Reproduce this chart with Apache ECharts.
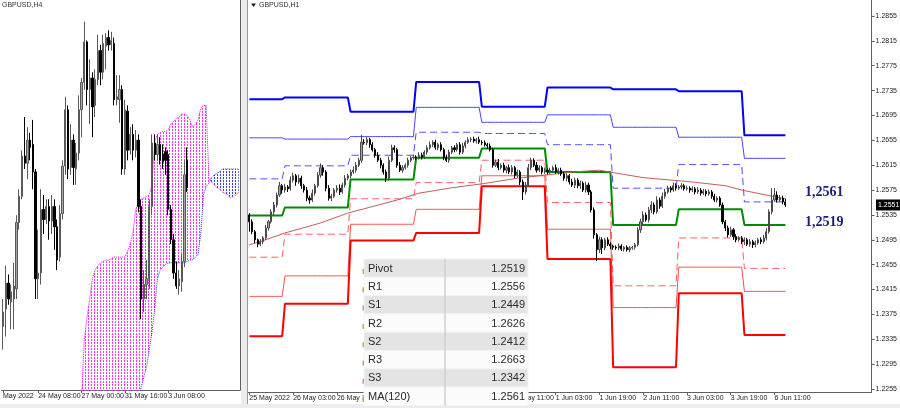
<!DOCTYPE html>
<html>
<head>
<meta charset="utf-8">
<script src="https://cdn.jsdelivr.net/npm/echarts@6.0.0/dist/echarts.min.js"></script>
<style>
html,body{margin:0;padding:0;background:#ffffff;}
#chart{width:900px;height:408px;}
</style>
</head>
<body>
<div id="chart"></div>
<script>
// ================= LEFT PANEL : GBPUSD,H4 =================
const h4TickIdx  = [0, 13, 29, 45, 61];
const h4TickText = ['May 2022', '24 May 08:00', '27 May 00:00', '31 May 16:00', '3 Jun 08:00'];

const h4Open = [1.2455,1.2467,1.2485,1.2472,1.2474,1.2481,1.2527,1.2545,1.2573,1.2568,
1.2584,1.2581,1.2562,1.2488,1.2492,1.2536,1.2529,1.2538,1.2528,1.2538,
1.2524,1.2503,1.2533,1.2566,1.2605,1.2565,1.2584,1.2564,1.2575,1.2605,
1.2624,1.2652,1.2619,1.2627,1.2608,1.2626,1.2646,1.2631,1.2649,1.2655,
1.2650,1.2651,1.2612,1.2612,1.2619,1.2564,1.2604,1.2577,1.2588,1.2577,
1.2584,1.2538,1.2474,1.2484,1.2488,1.2538,1.2582,1.2574,1.2581,1.2574,
1.2576,1.2574,1.2536,1.2515,1.2492,1.2483,1.2486,1.2500,1.2570];
const h4Close = [1.2465,1.2485,1.2474,1.2479,1.2483,1.2527,1.2545,1.2573,1.2568,1.2584,
1.2579,1.2562,1.2488,1.2492,1.2536,1.2529,1.2538,1.2528,1.2538,1.2524,
1.2501,1.2533,1.2566,1.2605,1.2564,1.2584,1.2565,1.2575,1.2605,1.2624,
1.2652,1.2619,1.2627,1.2607,1.2626,1.2646,1.2631,1.2651,1.2655,1.2650,
1.2653,1.2612,1.2614,1.2619,1.2564,1.2605,1.2577,1.2588,1.2577,1.2584,
1.2538,1.2474,1.2484,1.2488,1.2538,1.2582,1.2574,1.2581,1.2570,1.2569,
1.2570,1.2536,1.2515,1.2492,1.2483,1.2488,1.2500,1.2560,1.2551];
const h4Low = [1.2439,1.2448,1.2470,1.2453,1.2453,1.2474,1.2522,1.2543,1.2564,1.2557,
1.2570,1.2550,1.2474,1.2474,1.2484,1.2519,1.2526,1.2515,1.2519,1.2508,
1.2494,1.2500,1.2529,1.2560,1.2557,1.2560,1.2553,1.2553,1.2570,1.2586,
1.2619,1.2608,1.2595,1.2586,1.2600,1.2622,1.2622,1.2626,1.2633,1.2646,
1.2646,1.2608,1.2608,1.2596,1.2560,1.2560,1.2570,1.2574,1.2570,1.2572,
1.2534,1.2460,1.2465,1.2474,1.2481,1.2532,1.2570,1.2570,1.2567,1.2564,
1.2560,1.2532,1.2512,1.2488,1.2481,1.2477,1.2479,1.2496,1.2548];
const h4High = [1.2474,1.2497,1.2491,1.2484,1.2499,1.2532,1.2550,1.2577,1.2600,1.2593,
1.2589,1.2598,1.2564,1.2522,1.2550,1.2546,1.2543,1.2543,1.2546,1.2543,
1.2529,1.2539,1.2570,1.2614,1.2608,1.2595,1.2588,1.2582,1.2615,1.2627,
1.2666,1.2653,1.2640,1.2631,1.2633,1.2657,1.2650,1.2657,1.2658,1.2660,
1.2659,1.2655,1.2629,1.2629,1.2622,1.2612,1.2608,1.2593,1.2595,1.2591,
1.2588,1.2543,1.2494,1.2501,1.2543,1.2588,1.2588,1.2588,1.2586,1.2581,
1.2579,1.2577,1.2539,1.2519,1.2500,1.2494,1.2505,1.2570,1.2579];

// Ichimoku cloud (Senkou Span A / B), starting at bar 28
const cloudStart = 28;
const senkouA = [1.2377,1.2405,1.2446,1.2461,1.2474,1.2488,1.2494,1.2497,1.2499,1.2500,
1.2501,1.2501,1.2502,1.2503,1.2503,1.2503,1.2503,1.2503,1.2507,1.2512,
1.2520,1.2536,1.2541,1.2543,1.2544,1.2545,1.2546,1.2553,1.2583,1.2588,
1.2589,1.2590,1.2590,1.2591,1.2595,1.2597,1.2599,1.2600,1.2602,1.2602,
1.2601,1.2598,1.2593,1.2595,1.2598,1.2606,1.2608,1.2608,1.2558,1.2555,
1.2553,1.2551,1.2550,1.2548,1.2547,1.2546,1.2544,1.2545,1.2546,1.2548];
const senkouB = [1.2349,1.2349,1.2349,1.2349,1.2349,1.2349,1.2356,1.2356,1.2356,1.2356,
1.2363,1.2363,1.2363,1.2370,1.2370,1.2377,1.2377,1.2384,1.2384,1.2391,
1.2394,1.2401,1.2406,1.2413,1.2420,1.2427,1.2439,1.2451,1.2467,1.2488,
1.2494,1.2496,1.2498,1.2499,1.2499,1.2499,1.2499,1.2499,1.2499,1.2499,
1.2500,1.2501,1.2501,1.2503,1.2505,1.2519,1.2546,1.2552,1.2554,1.2558,
1.2560,1.2561,1.2562,1.2564,1.2564,1.2564,1.2564,1.2564,1.2564,1.2564];

// ================= RIGHT PANEL : GBPUSD,H1 =================
const h1TickIdx  = [0,16,32,48,64,80,96,112,128,144,160,176,192];
const h1TickText = ['25 May 2022','26 May 03:00','26 May 19:00','27 May 11:00','30 May 03:00','30 May 19:00',
                    '31 May 11:00','1 Jun 03:00','1 Jun 19:00','2 Jun 11:00','3 Jun 03:00','3 Jun 19:00','6 Jun 11:00'];
const priceTicks = [1.2855,1.2815,1.2775,1.2735,1.2695,1.2655,1.2615,1.2575,1.2535,1.2495,1.2455,1.2415,1.2375,1.2335,1.2295,1.2255];

const h1FirstOpen = 1.2535;
const h1Close = [1.2524,1.2508,1.2495,1.2488,1.2492,1.2498,1.2514,1.2524,1.2540,1.2551,
1.2567,1.2582,1.2575,1.2580,1.2577,1.2591,1.2598,1.2588,1.2594,1.2582,
1.2575,1.2562,1.2559,1.2570,1.2582,1.2599,1.2611,1.2604,1.2578,1.2562,
1.2565,1.2575,1.2578,1.2572,1.2583,1.2594,1.2598,1.2604,1.2607,1.2615,
1.2623,1.2652,1.2651,1.2656,1.2648,1.2640,1.2631,1.2623,1.2615,1.2604,
1.2594,1.2623,1.2643,1.2640,1.2615,1.2607,1.2611,1.2615,1.2623,1.2627,
1.2628,1.2627,1.2631,1.2628,1.2636,1.2643,1.2648,1.2652,1.2643,1.2648,
1.2640,1.2627,1.2623,1.2636,1.2643,1.2640,1.2648,1.2636,1.2646,1.2652,
1.2656,1.2657,1.2654,1.2656,1.2652,1.2651,1.2648,1.2646,1.2640,1.2615,
1.2620,1.2611,1.2615,1.2607,1.2611,1.2604,1.2611,1.2599,1.2604,1.2588,
1.2572,1.2583,1.2611,1.2623,1.2615,1.2607,1.2611,1.2604,1.2607,1.2604,
1.2607,1.2611,1.2604,1.2607,1.2601,1.2594,1.2598,1.2588,1.2583,1.2591,
1.2582,1.2586,1.2575,1.2583,1.2572,1.2543,1.2503,1.2479,1.2495,1.2482,
1.2495,1.2488,1.2485,1.2483,1.2482,1.2485,1.2480,1.2483,1.2479,1.2482,
1.2483,1.2487,1.2511,1.2524,1.2535,1.2527,1.2543,1.2551,1.2540,1.2559,
1.2549,1.2565,1.2572,1.2578,1.2575,1.2582,1.2578,1.2580,1.2582,1.2577,
1.2578,1.2575,1.2577,1.2572,1.2575,1.2570,1.2573,1.2569,1.2572,1.2565,
1.2559,1.2562,1.2551,1.2524,1.2514,1.2503,1.2511,1.2500,1.2495,1.2498,
1.2492,1.2495,1.2488,1.2492,1.2487,1.2490,1.2495,1.2492,1.2498,1.2508,
1.2540,1.2559,1.2567,1.2559,1.2562,1.2556,1.2551];
// wick sizes in pips (0.0001) above / below the body
const h1UpWick = [3,4,3,2,4,3,5,3,4,5, 4,6,3,5,3,6,5,3,6,4, 3,5,4,6,3,5,7,4,3,5, 4,3,5,6,4,5,3,4,6,5,
4,12,5,4,3,4,3,5,4,3, 4,6,5,4,3,5,4,3,4,3, 4,3,5,4,3,4,5,3,4,3, 4,3,5,4,3,4,3,4,5,3,
4,3,4,3,5,3,4,3,4,3, 4,5,3,4,3,5,4,3,4,3, 4,5,6,4,3,5,4,3,4,3, 4,3,5,3,4,3,4,3,5,4,
3,4,3,5,4,3,4,3,5,4, 3,4,3,2,3,4,3,2,3,3, 2,3,4,5,6,4,5,6,4,6, 4,6,5,4,3,5,4,3,4,3,
4,3,4,3,5,3,4,3,4,3, 4,3,3,4,3,4,5,3,4,3, 3,4,3,4,3,4,3,4,5,6, 4,19,11,6,5,4,5];
const h1DnWick = [16,4,5,5,3,4,3,4,3,5, 4,3,6,4,5,3,4,6,3,5, 4,5,6,3,4,3,4,6,5,4, 5,3,4,5,3,4,3,4,3,4,
3,4,3,4,5,3,4,3,5,4, 6,4,3,5,4,3,4,3,4,3, 3,4,3,4,3,4,3,4,3,4, 3,4,3,4,3,4,3,4,3,4,
3,4,3,4,3,4,3,4,3,4, 3,4,3,4,5,3,4,5,4,5, 13,4,3,4,3,4,3,4,3,4, 3,4,3,4,3,4,5,4,3,5,
4,5,3,4,5,4,6,18,5,10, 4,3,5,4,3,4,3,4,3,4, 3,4,3,5,4,3,4,5,4,3, 4,3,4,3,4,3,4,3,4,3,
3,4,3,4,3,4,3,4,3,4, 3,4,3,4,5,4,3,5,4,3, 4,5,3,4,5,4,3,4,3,4, 3,4,3,4,3,4,3];

// Daily pivot levels (one value per trading day), day starts (bar index)
const dayStart = [0,13,37,61,85,109,133,157,181];
const lvR3 = [1.2721,1.2724,1.2701,1.2749,1.2709,1.2740,1.2737,1.2734,1.2663];
const lvR2 = [1.2659,1.2657,1.2661,1.2708,1.2684,1.2696,1.2676,1.2660,1.2626];
const lvR1 = [1.2593,1.2614,1.2631,1.2668,1.2666,1.2648,1.2578,1.2616,1.2556];
const lvP  = [1.2534,1.2547,1.2592,1.2627,1.2642,1.2604,1.2519,1.2544,1.2519];
const lvS1 = [1.2467,1.2504,1.2561,1.2587,1.2623,1.2555,1.2421,1.2498,1.2449];
const lvS2 = [1.2404,1.2437,1.2520,1.2544,1.2598,1.2512,1.2386,1.2451,1.2412];
const lvS3 = [1.2340,1.2392,1.2494,1.2506,1.2581,1.2464,1.2290,1.2409,1.2342];

// MA(120) read at bar indices
const maBars = [0,4,13,26,36,42,54,62,73,85,98,108,118,128,133,144,162,174,180,189,196];
const maVals = [1.2487,1.2492,1.2506,1.2522,1.2538,1.2545,1.2559,1.2570,1.2578,1.2585,1.2594,1.2599,1.2604,1.2607,1.2603,1.2595,1.2588,1.2582,1.2575,1.2567,1.2561];

// Info table
const tableLabels = ['Pivot','R1','S1','R2','S2','R3','S3','MA(120)'];
const tableValues = [1.2519,1.2556,1.2449,1.2626,1.2412,1.2663,1.2342,1.2561];
const lastPrice = 1.2551;

// ================= BUILD =================
const N4 = 88, N1 = 228, nH1 = h1Close.length;
const cats4 = Array.from({length:N4}, (_, i) => String(i));
const cats1 = Array.from({length:N1}, (_, i) => String(i));
const h4Data = h4Open.map((o, i) => [o, h4Close[i], h4Low[i], h4High[i]]);
const h1Data = h1Close.map((c, i) => {
  const o = i === 0 ? h1FirstOpen : h1Close[i - 1];
  return [o, c, +(Math.min(o, c) - h1DnWick[i] / 10000).toFixed(4), +(Math.max(o, c) + h1UpWick[i] / 10000).toFixed(4)];
});
function perBar(levels) {
  const out = [];
  for (let i = 0; i < nH1; i++) {
    let d = 0;
    while (d + 1 < dayStart.length && dayStart[d + 1] <= i) d++;
    out.push(levels[d]);
  }
  return out;
}
const spanA = new Array(N4).fill('-'), spanB = new Array(N4).fill('-');
senkouA.forEach((v, k) => { spanA[cloudStart + k] = v; });
senkouB.forEach((v, k) => { spanB[cloudStart + k] = v; });
const cloudLow = spanA.map((a, i) => a === '-' ? '-' : Math.min(a, spanB[i]));
const bandUp = spanA.map((a, i) => a === '-' ? '-' : Math.max(a - spanB[i], 0));
const bandDn = spanA.map((a, i) => a === '-' ? '-' : Math.max(spanB[i] - a, 0));

function dotPattern(color) {
  const c = document.createElement('canvas');
  c.width = 3; c.height = 3;
  const g = c.getContext('2d');
  g.fillStyle = color;
  g.fillRect(1, 0, 1, 2);
  return c;
}
const magPat = dotPattern('#ff33ff');
const bluPat = dotPattern('#3c3cff');

const axFont = "'Liberation Sans',Arial,sans-serif";
const axSize = 7;
const tick4 = {}; h4TickIdx.forEach((ix, k) => { tick4[String(ix)] = h4TickText[k]; });
const tick1 = {}; h1TickIdx.forEach((ix, k) => { tick1[String(ix)] = h1TickText[k]; });

const chart = echarts.init(document.getElementById('chart'), null, {renderer: 'canvas', width: 900, height: 408});

function pivLine(levels, color, width, type) {
  return {type: 'line', xAxisIndex: 1, yAxisIndex: 1, data: perBar(levels), symbol: 'none', silent: true, z: 3,
          lineStyle: {color: color, width: width, type: type || 'solid'}};
}

const option = {
  animation: false,
  backgroundColor: '#ffffff',
  tooltip: {show: false},
  grid: [
    {left: 0, top: 0, width: 240, height: 390},
    {left: 248, top: 0, width: 627, height: 392}
  ],
  xAxis: [
    {type: 'category', gridIndex: 0, data: cats4, boundaryGap: true,
     axisLine: {show: true, lineStyle: {color: '#606060', width: 1}},
     axisTick: {show: true, alignWithLabel: true, length: 3, interval: (i) => h4TickIdx.includes(i), lineStyle: {color: '#606060'}},
     axisLabel: {show: true, interval: (i) => h4TickIdx.includes(i), formatter: (v) => tick4[v] || '', align: 'left',
                 showMinLabel: true, showMaxLabel: true, hideOverlap: false,
                 margin: 3, fontSize: axSize, color: '#222', fontFamily: axFont},
     splitLine: {show: false}},
    {type: 'category', gridIndex: 1, data: cats1, boundaryGap: true,
     axisLine: {show: true, lineStyle: {color: '#606060', width: 1}},
     axisTick: {show: true, alignWithLabel: true, length: 3, interval: (i) => h1TickIdx.includes(i), lineStyle: {color: '#606060'}},
     axisLabel: {show: true, interval: (i) => h1TickIdx.includes(i), formatter: (v) => tick1[v] || '', align: 'left',
                 showMinLabel: true, showMaxLabel: true, hideOverlap: false,
                 margin: 3, fontSize: axSize, color: '#222', fontFamily: axFont},
     splitLine: {show: false}}
  ],
  yAxis: [
    {type: 'value', gridIndex: 0, min: 1.2411, max: 1.2681, position: 'right',
     axisLine: {show: true, lineStyle: {color: '#606060'}}, axisTick: {show: false}, axisLabel: {show: false}, splitLine: {show: false}},
    {type: 'value', gridIndex: 1, min: 1.22502, max: 1.28807, position: 'right',
     axisLine: {show: true, lineStyle: {color: '#606060'}},
     axisTick: {show: true, length: 3, customValues: priceTicks, lineStyle: {color: '#606060'}},
     axisLabel: {show: true, customValues: priceTicks, formatter: (v) => v.toFixed(4), margin: 4, fontSize: axSize, color: '#222', fontFamily: axFont},
     splitLine: {show: false}}
  ],
  series: [
    // ---- left cloud ----
    {type: 'line', xAxisIndex: 0, yAxisIndex: 0, data: cloudLow, stack: 'kup', symbol: 'none', silent: true, z: 1, lineStyle: {opacity: 0}},
    {type: 'line', xAxisIndex: 0, yAxisIndex: 0, data: bandUp, stack: 'kup', symbol: 'none', silent: true, z: 1, lineStyle: {opacity: 0},
     areaStyle: {color: {image: magPat, repeat: 'repeat'}, opacity: 1}},
    {type: 'line', xAxisIndex: 0, yAxisIndex: 0, data: cloudLow, stack: 'kdn', symbol: 'none', silent: true, z: 1, lineStyle: {opacity: 0}},
    {type: 'line', xAxisIndex: 0, yAxisIndex: 0, data: bandDn, stack: 'kdn', symbol: 'none', silent: true, z: 1, lineStyle: {opacity: 0},
     areaStyle: {color: {image: bluPat, repeat: 'repeat'}, opacity: 1}},
    {type: 'line', xAxisIndex: 0, yAxisIndex: 0, data: spanA, symbol: 'none', silent: true, z: 2, lineStyle: {color: '#ff00ff', width: 1, type: 'dotted'}},
    {type: 'line', xAxisIndex: 0, yAxisIndex: 0, data: spanB, symbol: 'none', silent: true, z: 2, lineStyle: {color: '#3232ff', width: 1, type: 'dotted'}},
    // ---- left candles ----
    {type: 'candlestick', xAxisIndex: 0, yAxisIndex: 0, data: h4Data, barWidth: 1.8, z: 4, silent: true,
     itemStyle: {color: '#a4a4a4', color0: '#000000', borderColor: '#5a5a5a', borderColor0: '#000000', borderWidth: 1}},
    // ---- right pivots ----
    pivLine(lvR3, '#0000ff', 2),
    pivLine(lvR2, '#4646ff', 1),
    pivLine(lvR1, '#4d4dff', 1, [7, 4]),
    pivLine(lvP, '#008a00', 2),
    pivLine(lvS1, '#ff5c5c', 1, [7, 4]),
    pivLine(lvS2, '#ff5050', 1),
    pivLine(lvS3, '#ff0000', 2),
    {type: 'line', xAxisIndex: 1, yAxisIndex: 1, data: maBars.map((b, k) => [b, maVals[k]]), symbol: 'none', silent: true, z: 3,
     lineStyle: {color: '#c0605a', width: 1}},
    // ---- right candles ----
    {type: 'candlestick', xAxisIndex: 1, yAxisIndex: 1, data: h1Data, barWidth: 1.6, z: 5, silent: true,
     itemStyle: {color: '#a4a4a4', color0: '#000000', borderColor: '#4a4a4a', borderColor0: '#000000', borderWidth: 1}}
  ]
};
chart.setOption(option);

// ================= OVERLAYS =================
const yR = (v) => chart.convertToPixel({yAxisIndex: 1}, v);
const G = [];
const txt = (x, y, s, o) => Object.assign({type: 'text', x: x, y: y, z: 100,
  style: Object.assign({text: s, fill: '#222', fontSize: 11, fontFamily: "'Liberation Sans',Arial,sans-serif",
                        align: 'left', textAlign: 'left', verticalAlign: 'middle', textVerticalAlign: 'middle'}, o || {})});
// panel separator and bottom strip
G.push({type: 'rect', z: 100, shape: {x: 241, y: 0, width: 6, height: 404}, style: {fill: '#ececec'}});
G.push({type: 'line', z: 100, shape: {x1: 247.5, y1: 0, x2: 247.5, y2: 404}, style: {stroke: '#9a9a9a', lineWidth: 1}});
G.push({type: 'rect', z: 100, shape: {x: 0, y: 404, width: 900, height: 4}, style: {fill: '#ececec'}});
// titles
G.push(txt(2, 5, 'GBPUSD,H4', {fontSize: 7, fill: '#333', fontFamily: axFont}));
G.push({type: 'polygon', z: 100, shape: {points: [[251, 3.5], [256, 3.5], [253.5, 7]]}, style: {fill: '#222'}});
G.push(txt(259, 5, 'GBPUSD,H1', {fontSize: 7, fill: '#333', fontFamily: axFont}));
// table
const tx0 = 364, tx1 = 528, tcol = 445, ty0 = 259, rowH = 18.3;
tableLabels.forEach((lab, k) => {
  const y = ty0 + k * rowH;
  const fill = (k % 2 === 0) ? '#e4e4e4' : '#fbfbfb';
  G.push({type: 'rect', z: 100, shape: {x: tx0, y: y, width: tx1 - tx0, height: rowH}, style: {fill: fill, stroke: '#f4f4f4', lineWidth: 1}});
  G.push({type: 'rect', z: 101, shape: {x: 362.5, y: y + 10, width: 1.5, height: 5}, style: {fill: '#c9a45c'}});
  G.push(txt(368, y + rowH / 2 + 0.5, lab, {fontSize: 11, fill: '#2a2a2a'}));
  G.push(txt(525, y + rowH / 2 + 0.5, tableValues[k].toFixed(4), {fontSize: 11, fill: '#2a2a2a', align: 'right', textAlign: 'right'}));
});
G.push({type: 'line', z: 101, shape: {x1: tcol, y1: ty0, x2: tcol, y2: ty0 + rowH * tableLabels.length}, style: {stroke: '#d0d0d0', lineWidth: 1.5}});
// level labels
const maLast = maVals[maVals.length - 1];
const pvLast = lvP[lvP.length - 1];
G.push(txt(805, yR(maLast) - 6, maLast.toFixed(4).replace('.', ','), {fontSize: 14, fontWeight: 'bold', fill: '#1c1c7c', fontFamily: "'Liberation Serif','Times New Roman',serif"}));
G.push(txt(805, yR(pvLast) - 2, pvLast.toFixed(4).replace('.', ','), {fontSize: 14, fontWeight: 'bold', fill: '#1c1c7c', fontFamily: "'Liberation Serif','Times New Roman',serif"}));
// current price box
const yp = yR(lastPrice);
G.push({type: 'rect', z: 100, shape: {x: 876, y: yp - 5.5, width: 24, height: 11}, style: {fill: '#000'}});
G.push(txt(878, yp, lastPrice.toFixed(4), {fontSize: 7, fill: '#fff', fontFamily: axFont}));

chart.setOption({graphic: {elements: G}});
</script>
</body>
</html>
